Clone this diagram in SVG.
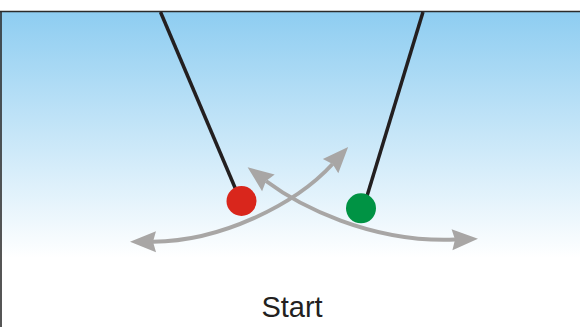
<svg xmlns="http://www.w3.org/2000/svg" width="580" height="327" viewBox="0 0 580 327">
  <style>
    .frame { stroke: #2b2b2b; stroke-width: 1.6; fill: none; }
    .string { stroke: #231f20; stroke-width: 3.5; fill: none; }
    .arrow { stroke: #a8a6a5; stroke-width: 4; fill: none; }
    .label { font-family: "Liberation Sans", Arial, sans-serif; font-size: 29px; fill: #231f20; }
  </style>
  <defs>
    <linearGradient id="sky" gradientUnits="userSpaceOnUse" x1="0" y1="12" x2="0" y2="258">
      <stop offset="0" stop-color="#8ecdf1"/>
      <stop offset="1" stop-color="#ffffff"/>
    </linearGradient>
    <marker id="head" markerUnits="userSpaceOnUse" markerWidth="30" markerHeight="26" viewBox="0 -13 30 26" refX="3" refY="0" orient="auto-start-reverse" overflow="visible">
      <path d="M26,0 L0,-10.5 L3,0 L0,10.5 Z" fill="#a8a6a5"/>
    </marker>
  </defs>

  <rect x="0" y="0" width="580" height="327" fill="#ffffff"/>
  <rect x="0" y="12" width="580" height="315" fill="url(#sky)"/>
  <line class="frame" x1="0" y1="11.5" x2="580" y2="11.5"/>
  <line class="frame" x1="1" y1="11" x2="1" y2="327"/>

  <g id="connectors">
    <path id="swing-red" class="arrow" d="M153,241.7 C220,241.5 295,205 332.6,164" marker-start="url(#head)" marker-end="url(#head)"/>
    <path id="swing-green" class="arrow" d="M266,181 C298,205 370,243 455,239.6" marker-start="url(#head)" marker-end="url(#head)"/>
  </g>

  <g id="pendulum-red">
    <line class="string" x1="160.5" y1="12" x2="236" y2="190"/>
    <circle cx="241.5" cy="201" r="15" fill="#d9261c"/>
  </g>

  <g id="pendulum-green">
    <line class="string" x1="423" y1="12" x2="367" y2="196"/>
    <circle cx="361" cy="208.3" r="15" fill="#009344"/>
  </g>

  <g id="label-start">
    <text class="label" x="292" y="317" text-anchor="middle">Start</text>
  </g>
</svg>
